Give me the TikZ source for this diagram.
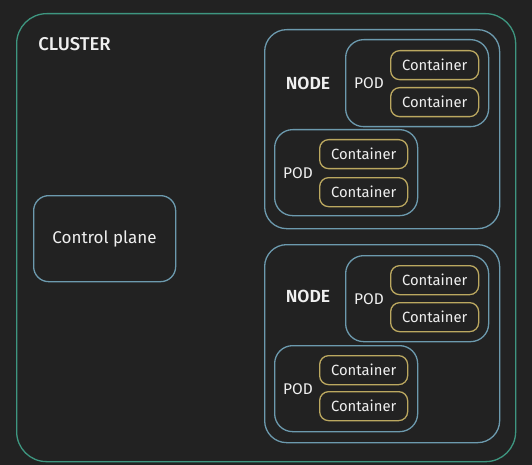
\documentclass[tikz,border=0pt]{standalone}
\usepackage{fontspec}
\setmainfont{Fira Sans}
\newfontfamily\semib{Fira Sans SemiBold}
\newfontfamily\medf{Fira Sans Medium}
\definecolor{bg}{HTML}{222222}
\definecolor{clustc}{HTML}{3E9680}
\definecolor{nodec}{HTML}{6C9AAE}
\definecolor{contc}{HTML}{BBA860}
\definecolor{txt}{HTML}{F0F0F0}
\tikzset{
  box/.style={draw, line width=1.3pt, inner sep=0pt, anchor=north west},
  clusterbox/.style={box, draw=clustc, rounded corners=30pt},
  nodebox/.style={box, draw=nodec, rounded corners=22pt},
  podbox/.style={box, draw=nodec, rounded corners=18pt},
  cpbox/.style={box, draw=nodec, rounded corners=15pt},
  contbox/.style={box, draw=contc, rounded corners=9pt, text=txt, font=\fontsize{14.8}{16}\selectfont, align=center},
  lbl/.style={text=txt, inner sep=0pt},
  podlbl/.style={lbl, font=\fontsize{15.5}{17}\selectfont},
  nodelbl/.style={lbl, font=\fontsize{17.5}{19}\selectfont\semib},
}
\newcommand{\bx}[6]{% style, name, x1, y1, x2, y2
  \node[#1, minimum width={(#5-#3)*1pt}, minimum height={(#6-#4)*1pt}] (#2) at (#3,#4) {};}
\newcommand{\cbx}[5]{% name, x1, y1, x2, y2
  \node[contbox, minimum width={(#4-#2)*1pt}, minimum height={(#5-#3)*1pt}] (#1) at (#2,#3) {Container};}
\begin{document}
\begin{tikzpicture}[x=1pt,y=-1pt]
\fill[bg] (0,0) rectangle (532,465);
\useasboundingbox (0,0) rectangle (532,465);
\bx{clusterbox}{cluster}{16}{13}{515}{461}
\node[lbl, font=\fontsize{18.5}{20}\selectfont\medf] (clusterlbl) at (74.5,44) {CLUSTER};
% control plane
\bx{cpbox}{cp}{33}{195}{175}{281}
\node[lbl, font=\fontsize{17}{19}\selectfont] (cplbl) at (104.5,239) {Control plane};
% node 1
\bx{nodebox}{node1}{264}{29}{499}{228}
\node[nodelbl] (node1lbl) at (308,83) {NODE};
\bx{podbox}{pod1}{345}{39}{488}{126}
\node[podlbl] (pod1lbl) at (369,83) {POD};
\cbx{c1}{390}{50}{478}{79}
\cbx{c2}{390}{87}{478}{116}
\bx{podbox}{pod2}{274}{129}{417}{215}
\node[podlbl] (pod2lbl) at (298,173) {POD};
\cbx{c3}{319}{139}{407}{168}
\cbx{c4}{319}{177}{407}{206}
% node 2
\bx{nodebox}{node2}{264}{244}{499}{442}
\node[nodelbl] (node2lbl) at (308,296) {NODE};
\bx{podbox}{pod3}{345}{255}{488}{341}
\node[podlbl] (pod3lbl) at (369,299) {POD};
\cbx{c5}{390}{265}{478}{294}
\cbx{c6}{390}{302}{478}{331}
\bx{podbox}{pod4}{274}{345}{417}{431}
\node[podlbl] (pod4lbl) at (298,389) {POD};
\cbx{c7}{319}{355}{407}{384}
\cbx{c8}{319}{391}{407}{420}
\end{tikzpicture}
\end{document}
